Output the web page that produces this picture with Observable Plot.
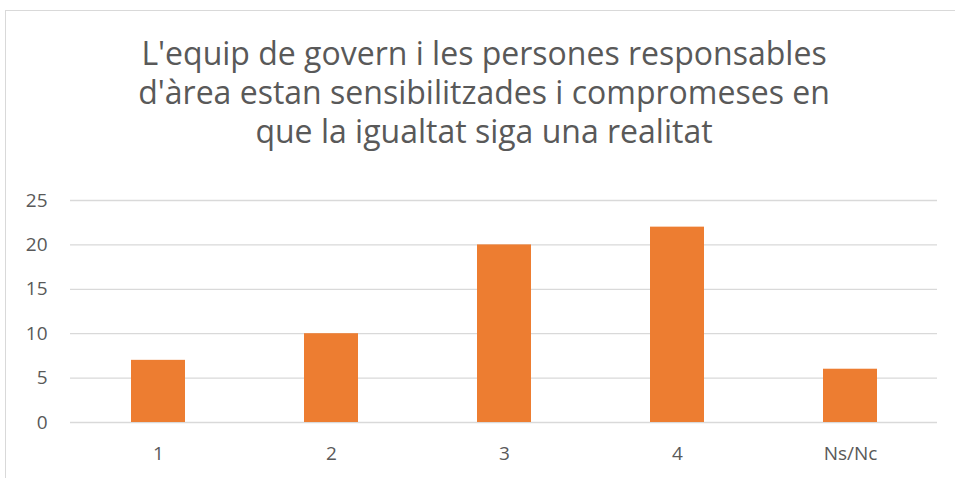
<!DOCTYPE html>
<html>
<head>
<meta charset="utf-8">
<script src="https://cdn.jsdelivr.net/npm/d3@7"></script>
<script src="https://cdn.jsdelivr.net/npm/@observablehq/plot@0.6"></script>
<style>
  html, body { margin: 0; padding: 0; background: #fff; }
  #wrap { position: relative; width: 955px; height: 478px; overflow: hidden; font-family: "Open Sans", sans-serif; }
  #frame { position: absolute; left: 5px; top: 10px; width: 1000px; height: 600px; border: 1px solid #d9d9d9; box-sizing: border-box; }
  #title { position: absolute; left: 0; width: 968px; top: 33px; text-align: center; font-size: 32px; line-height: 39px; color: #595959; }
  #chart { position: absolute; left: 0; top: 0; }
</style>
</head>
<body>
<div id="wrap">
  <div id="frame"></div>
  <div id="chart"></div>
  <div id="title">L'equip de govern i les persones responsables<br>d'àrea estan sensibilitzades i compromeses en<br>que la igualtat siga una realitat</div>
</div>
<script>
const categories = ["1", "2", "3", "4", "Ns/Nc"];
const values = [7, 10, 20, 22, 6];
const yTicks = [0, 5, 10, 15, 20, 25];

const data = categories.map((c, i) => ({category: c, value: values[i]}));

const plot = Plot.plot({
  width: 955,
  height: 478,
  marginLeft: 70,
  marginRight: 18,
  marginTop: 200,
  marginBottom: 56,
  style: {fontFamily: "Open Sans, sans-serif", fontSize: "19px", color: "#595959", background: "transparent"},
  x: {domain: categories, paddingInner: 0.69, paddingOuter: 0.345, label: null, tickSize: 0, tickPadding: 24},
  y: {domain: [0, 25], ticks: yTicks, label: null, tickSize: 0, tickPadding: 23},
  marks: [
    Plot.ruleY(yTicks, {stroke: "#d9d9d9", strokeWidth: 1.3}),
    Plot.barY(data, {x: "category", y: "value", fill: "#ED7D31"})
  ]
});
document.getElementById("chart").appendChild(plot);
</script>
</body>
</html>
